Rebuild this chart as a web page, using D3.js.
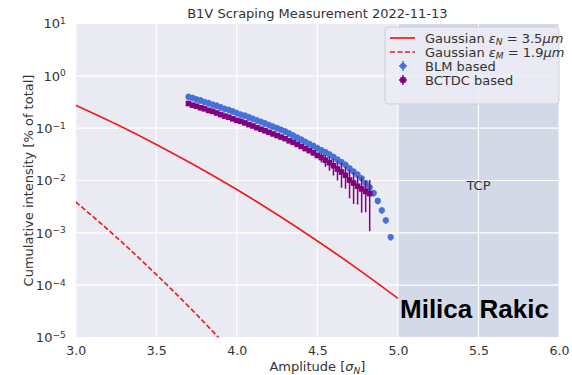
<!DOCTYPE html>
<html>
<head>
<meta charset="utf-8">
<script src="https://cdn.jsdelivr.net/npm/d3@7"></script>
<style>
  body { margin: 0; background: #fff; }
  text { font-family: "DejaVu Sans", sans-serif; fill: #333; }
  text.author { font-family: "Liberation Sans", Arial, sans-serif; font-weight: bold; fill: #000; }
</style>
</head>
<body>
<svg width="572" height="375"></svg>
<script>
// ---- data ----
var xTicks = [3.0, 3.5, 4.0, 4.5, 5.0, 5.5, 6.0];
var yTickExps = [1, 0, -1, -2, -3, -4, -5];

// Gaussian eps_N = 3.5 um (solid)
var gaussAmpN = [3.0, 3.25, 3.5, 3.75, 4.0, 4.25, 4.5, 4.75, 5.0];
var gaussValN = [0.275, 0.12, 0.049, 0.0187, 0.0067, 0.00224, 0.0007, 0.000205, 0.000056];

// Gaussian eps_M = 1.9 um (dashed)
var gaussAmpM = [3.0, 3.25, 3.5, 3.75, 4.0];
var gaussValM = [0.0039, 0.00084, 0.00016, 0.0000275, 0.0000042];

// BLM based
var blmAmp = [3.700, 3.725, 3.750, 3.775, 3.800, 3.825, 3.850, 3.875, 3.900, 3.925,
  3.950, 3.975, 4.000, 4.025, 4.050, 4.075, 4.100, 4.125, 4.150, 4.175,
  4.200, 4.225, 4.250, 4.275, 4.300, 4.325, 4.350, 4.375, 4.400, 4.425,
  4.450, 4.475, 4.500, 4.525, 4.550, 4.575, 4.600, 4.625, 4.650, 4.675,
  4.700, 4.725, 4.750, 4.775, 4.800, 4.825, 4.850, 4.875, 4.900, 4.925, 4.955];
var blmVal = [0.398, 0.380, 0.355, 0.339, 0.316, 0.302, 0.282, 0.269, 0.251, 0.234,
  0.224, 0.209, 0.195, 0.182, 0.174, 0.162, 0.151, 0.141, 0.132, 0.123,
  0.115, 0.107, 0.100, 0.0933, 0.0871, 0.0794, 0.0724, 0.0661, 0.0603, 0.0550,
  0.0501, 0.0457, 0.0417, 0.0380, 0.0347, 0.0316, 0.0282, 0.0251, 0.0224, 0.0200,
  0.0170, 0.0148, 0.0129, 0.0110, 0.00891, 0.00741, 0.00575, 0.00407, 0.00269, 0.00174, 0.00083];
var blmErr = [0.15, 0.15, 0.15, 0.15, 0.15, 0.15, 0.15, 0.15, 0.15, 0.15,
  0.15, 0.15, 0.15, 0.15, 0.15, 0.15, 0.15, 0.15, 0.15, 0.15,
  0.15, 0.15, 0.15, 0.15, 0.15, 0.15, 0.15, 0.15, 0.15, 0.15,
  0.15, 0.15, 0.15, 0.15, 0.15, 0.15, 0.15, 0.15, 0.15, 0.15,
  0.15, 0.15, 0.15, 0.15, 0.15, 0.15, 0.15, 0.15, 0.15, 0.15, 0.15];

// BCTDC based
var bctAmp = [3.700, 3.725, 3.750, 3.775, 3.800, 3.825, 3.850, 3.875, 3.900, 3.925,
  3.950, 3.975, 4.000, 4.025, 4.050, 4.075, 4.100, 4.125, 4.150, 4.175,
  4.200, 4.225, 4.250, 4.275, 4.300, 4.325, 4.350, 4.375, 4.400, 4.425,
  4.450, 4.475, 4.500, 4.525, 4.550, 4.575, 4.600, 4.625, 4.650, 4.675,
  4.700, 4.725, 4.750, 4.775, 4.800, 4.825];
var bctVal = [0.295, 0.275, 0.263, 0.245, 0.234, 0.219, 0.209, 0.195, 0.182, 0.170,
  0.162, 0.151, 0.141, 0.135, 0.126, 0.117, 0.110, 0.102, 0.0955, 0.0891,
  0.0832, 0.0776, 0.0724, 0.0676, 0.0631, 0.0575, 0.0537, 0.0490, 0.0447, 0.0407,
  0.0372, 0.0339, 0.0302, 0.0275, 0.0245, 0.0219, 0.0191, 0.0166, 0.0145, 0.0126,
  0.0102, 0.00891, 0.00776, 0.00692, 0.00617, 0.00562];
var bctErr = [0.08, 0.08, 0.08, 0.08, 0.08, 0.08, 0.08, 0.08, 0.08, 0.08,
  0.08, 0.08, 0.08, 0.08, 0.08, 0.08, 0.08, 0.08, 0.08, 0.08,
  0.08, 0.08, 0.08, 0.08, 0.08, 0.08, 0.08, 0.08, 0.08, 0.1,
  0.1, 0.12, 0.12, 0.2, 0.25, 0.3, 0.35, 0.4, 0.5, 0.45,
  0.55, 0.6, 0.55, 0.65, 0.6, 0.81];

var svg = d3.select('svg');

var plotLeft = 75.7, plotRight = 559, plotTop = 23.5, plotBottom = 337.5;

var x = d3.scaleLinear().domain([3, 6]).range([plotLeft, plotRight]);
var y = d3.scaleLog().domain([1e-5, 10]).range([plotBottom, plotTop]);

// background + TCP band
svg.append('rect')
  .attr('x', plotLeft).attr('y', plotTop)
  .attr('width', plotRight - plotLeft).attr('height', plotBottom - plotTop)
  .attr('fill', '#eaeaf2');

svg.append('rect')
  .attr('x', x(5)).attr('y', plotTop)
  .attr('width', x(6) - x(5)).attr('height', plotBottom - plotTop)
  .attr('fill', '#d4d9e8');

// grid
svg.append('g')
  .selectAll('line')
  .data(xTicks)
  .enter()
  .append('line')
  .attr('x1', function(d) { return x(d); })
  .attr('x2', function(d) { return x(d); })
  .attr('y1', plotTop).attr('y2', plotBottom)
  .attr('stroke', '#fff').attr('stroke-width', 1.1);

svg.append('g')
  .selectAll('line')
  .data(yTickExps)
  .enter()
  .append('line')
  .attr('x1', plotLeft).attr('x2', plotRight)
  .attr('y1', function(d) { return y(Math.pow(10, d)); })
  .attr('y2', function(d) { return y(Math.pow(10, d)); })
  .attr('stroke', '#fff').attr('stroke-width', 1.1);

// axes (no lines, labels only)
var xAxis = svg.append('g')
  .attr('transform', 'translate(0,' + plotBottom + ')')
  .call(d3.axisBottom(x).tickValues(xTicks).tickSize(0).tickPadding(9)
    .tickFormat(d3.format('.1f')));
xAxis.select('.domain').remove();
xAxis.selectAll('text')
  .attr('font-size', 12.5);

var yAxis = svg.append('g')
  .attr('transform', 'translate(' + plotLeft + ',0)')
  .call(d3.axisLeft(y).tickValues(yTickExps.map(function(e) { return Math.pow(10, e); }))
    .tickSize(0).tickPadding(10).tickFormat(function() { return ''; }));
yAxis.select('.domain').remove();
yAxis.selectAll('.tick text')
  .data(yTickExps)
  .attr('font-size', 13)
  .each(function(e) {
    var t = d3.select(this);
    t.append('tspan').text('10');
    t.append('tspan').attr('dy', '-0.45em').attr('font-size', 9)
      .text(String(e).replace('-', '\u2212'));
  });

// clip
svg.append('clipPath').attr('id', 'plotclip')
  .append('rect')
  .attr('x', plotLeft).attr('y', plotTop)
  .attr('width', plotRight - plotLeft).attr('height', plotBottom - plotTop);

var plot = svg.append('g').attr('clip-path', 'url(#plotclip)');

var line = d3.line()
  .x(function(d) { return x(d[0]); })
  .y(function(d) { return y(d[1]); })
  .curve(d3.curveMonotoneX);

plot.append('path')
  .datum(d3.zip(gaussAmpN, gaussValN))
  .attr('d', line)
  .attr('fill', 'none').attr('stroke', '#ee1d1d').attr('stroke-width', 1.7);

plot.append('path')
  .datum(d3.zip(gaussAmpM, gaussValM))
  .attr('d', line)
  .attr('fill', 'none').attr('stroke', '#ee1d1d').attr('stroke-width', 1.7)
  .attr('stroke-dasharray', '5,2.5');

// error bar series
function drawSeries(amp, val, err, color, shape) {
  var data = d3.range(amp.length).map(function(i) {
    return { a: amp[i], v: val[i], e: err[i] };
  });
  var g = plot.append('g');
  g.selectAll('line')
    .data(data)
    .enter()
    .append('line')
    .attr('x1', function(d) { return x(d.a); })
    .attr('x2', function(d) { return x(d.a); })
    .attr('y1', function(d) { return y(d.v * (1 + d.e)); })
    .attr('y2', function(d) { return y(Math.max(d.v * (1 - d.e), 1e-6)); })
    .attr('stroke', color).attr('stroke-width', 1.5);
  if (shape === 'circle') {
    g.selectAll('circle')
      .data(data)
      .enter()
      .append('circle')
      .attr('cx', function(d) { return x(d.a); })
      .attr('cy', function(d) { return y(d.v); })
      .attr('r', 3.1)
      .attr('fill', color);
  } else {
    g.selectAll('rect')
      .data(data)
      .enter()
      .append('rect')
      .attr('x', function(d) { return x(d.a) - 2.8; })
      .attr('y', function(d) { return y(d.v) - 2.8; })
      .attr('width', 5.6).attr('height', 5.6)
      .attr('fill', color);
  }
}

drawSeries(blmAmp, blmVal, blmErr, '#4472d8', 'circle');
drawSeries(bctAmp, bctVal, bctErr, '#800080', 'square');

// texts
svg.append('text')
  .attr('x', (plotLeft + plotRight) / 2).attr('y', 18)
  .attr('text-anchor', 'middle').attr('font-size', 13)
  .text('B1V Scraping Measurement 2022-11-13');

var xl = svg.append('text')
  .attr('x', (plotLeft + plotRight) / 2).attr('y', 371)
  .attr('text-anchor', 'middle').attr('font-size', 13);
xl.append('tspan').text('Amplitude [');
xl.append('tspan').attr('font-style', 'italic').text('\u03c3');
xl.append('tspan').attr('font-style', 'italic').attr('font-size', 9).attr('dy', 3).text('N');
xl.append('tspan').attr('dy', -3).text(']');

svg.append('text')
  .attr('transform', 'translate(33,' + ((plotTop + plotBottom) / 2) + ') rotate(-90)')
  .attr('text-anchor', 'middle').attr('font-size', 13)
  .text('Cumulative intensity [% of total]');

svg.append('text')
  .attr('x', (x(5) + x(6)) / 2).attr('y', 190)
  .attr('text-anchor', 'middle').attr('font-size', 13)
  .text('TCP');

// legend
var lg = svg.append('g').attr('transform', 'translate(385,27)');
lg.append('rect')
  .attr('width', 174).attr('height', 77).attr('rx', 3)
  .attr('fill', 'rgba(236,236,244,0.85)').attr('stroke', '#cfcfd6');

var legendItems = [
  { kind: 'solid', label: ['Gaussian ', '\u03b5', 'N', ' = 3.5', '\u03bcm'] },
  { kind: 'dash', label: ['Gaussian ', '\u03b5', 'M', ' = 1.9', '\u03bcm'] },
  { kind: 'blm', label: ['BLM based'] },
  { kind: 'bct', label: ['BCTDC based'] }
];

legendItems.forEach(function(item, i) {
  var yy = 11 + i * 14;
  if (item.kind === 'solid' || item.kind === 'dash') {
    lg.append('line')
      .attr('x1', 5).attr('x2', 30).attr('y1', yy).attr('y2', yy)
      .attr('stroke', '#ee1d1d').attr('stroke-width', 1.7)
      .attr('stroke-dasharray', item.kind === 'dash' ? '5,2.5' : null);
  } else {
    var c = item.kind === 'blm' ? '#4472d8' : '#800080';
    lg.append('line').attr('x1', 18).attr('x2', 18).attr('y1', yy - 5).attr('y2', yy + 5)
      .attr('stroke', c).attr('stroke-width', 1.5);
    lg.append('line').attr('x1', 14).attr('x2', 22).attr('y1', yy).attr('y2', yy)
      .attr('stroke', c).attr('stroke-width', 1.5);
    if (item.kind === 'blm') {
      lg.append('circle').attr('cx', 18).attr('cy', yy).attr('r', 3).attr('fill', c);
    } else {
      lg.append('rect').attr('x', 15.2).attr('y', yy - 2.8).attr('width', 5.6).attr('height', 5.6).attr('fill', c);
    }
  }
  var t = lg.append('text').attr('x', 40).attr('y', yy + 4.5).attr('font-size', 13);
  if (item.label.length === 1) {
    t.text(item.label[0]);
  } else {
    t.append('tspan').text(item.label[0]);
    t.append('tspan').attr('font-style', 'italic').text(item.label[1]);
    t.append('tspan').attr('font-style', 'italic').attr('font-size', 9).attr('dy', 2.5).text(item.label[2]);
    t.append('tspan').attr('dy', -2.5).text(item.label[3]);
    t.append('tspan').attr('font-style', 'italic').text(item.label[4]);
  }
});

// author tag
svg.append('text')
  .attr('class', 'author')
  .attr('x', 400).attr('y', 318)
  .attr('font-size', 26)
  .text('Milica Rakic');
</script>
</body>
</html>
